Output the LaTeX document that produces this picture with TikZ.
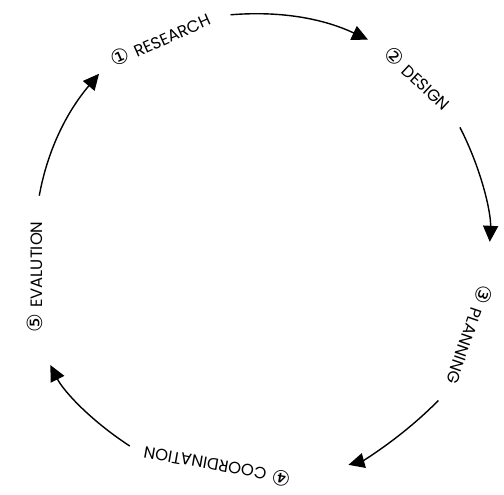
\documentclass[tikz,border=0pt]{standalone}
\usepackage{fontspec}
\setmainfont{Poppins}
\newfontfamily\circfont{DejaVu Sans}
\newcommand\stagenum[1]{{\circfont\fontsize{21}{21}\selectfont #1}\hspace{6bp}}
\usetikzlibrary{arrows.meta}

\begin{document}
\begin{tikzpicture}[x=1bp, y=1bp, >={Triangle[length=16bp, width=15bp]},
  stage/.style={inner sep=2pt, font=\fontsize{16.5}{18}\selectfont},
  cycle/.style={->, line width=1.4bp}]
  \useasboundingbox (0,0) rectangle (504,495);
  % stages round the circle
  \node[stage, rotate=24] (research) at (160,456) {\stagenum{①}RESEARCH};
  \node[stage, rotate=-43] (design) at (418,417) {\stagenum{②}DESIGN};
  \node[stage, rotate=-109] (planning) at (470,160) {\stagenum{③}PLANNING};
  \node[stage, rotate=170] (coord) at (217,28) {\stagenum{④}COORDINATION};
  \node[stage, rotate=90] (eval) at (35,218) {\stagenum{⑤}EVALUTION};
  % arrows, clockwise
  \draw[cycle, shorten <=20bp, shorten >=20bp] (research.east) to[bend left=15] (design.west);
  \draw[cycle, shorten <=22bp, shorten >=42bp] (design.east) to[bend left=15] (planning.west);
  \draw[cycle, shorten <=20bp, shorten >=58bp] (planning.east) to[bend left=15] (coord.west);
  \draw[cycle, shorten <=14bp, shorten >=34bp] (coord.east) to[bend left=15] (eval.west);
  \draw[cycle, shorten <=24bp, shorten >=16bp] (eval.east) to[bend left=15] (research.west);
\end{tikzpicture}
\end{document}
